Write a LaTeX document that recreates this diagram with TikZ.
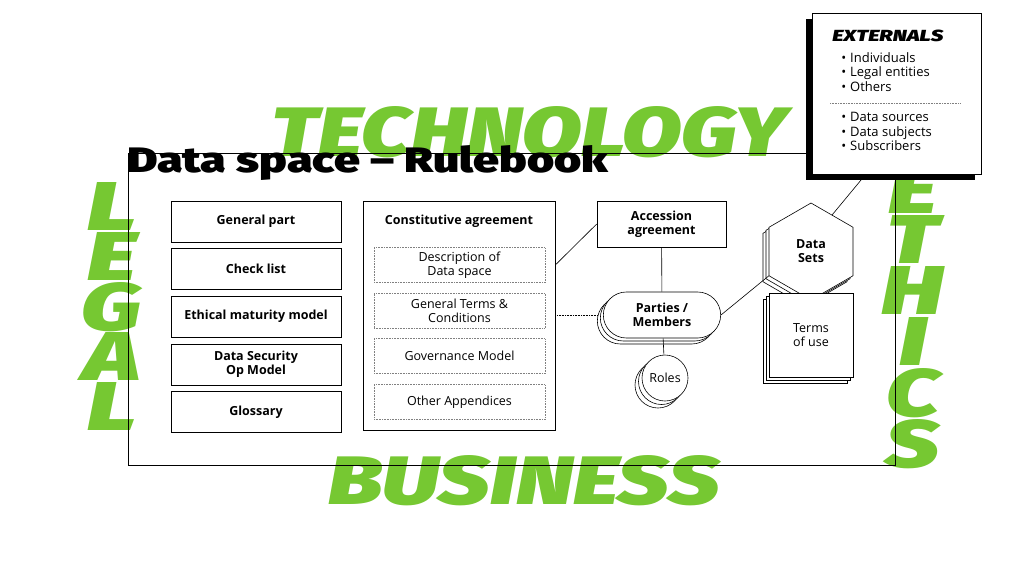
\documentclass[tikz,border=0pt]{standalone}
\usepackage{fontspec}
\setmainfont{Open Sans}
\newfontfamily\heavyfont{Fira Sans Black Italic}
\newfontfamily\titlefont{Fira Sans Black}
\usetikzlibrary{positioning,shapes.geometric,shapes.misc,shadows}
\definecolor{lime}{RGB}{118,200,50}

\begin{document}
\begin{tikzpicture}[x=1pt,y=-1pt,line width=0.6pt,
word/.style={text=lime,font=\heavyfont\fontsize{70}{70}\selectfont,inner sep=0pt},
part/.style={draw,fill=white,minimum width=170pt,minimum height=41pt,align=center,font=\fontsize{12.5}{14}\selectfont\bfseries},
sub/.style={draw=gray,densely dotted,text=black,minimum width=171pt,minimum height=35pt,align=center,font=\fontsize{12.5}{14}\selectfont},
stack/.style={general shadow={shadow xshift=-#1*2,shadow yshift=-#1*2,draw,fill=white},general shadow={shadow xshift=-#1,shadow yshift=-#1,draw,fill=white}},
lbl/.style={align=center,font=\fontsize{12.5}{14}\selectfont},
ext/.style={anchor=north west,inner sep=0pt,align=left,font=\fontsize{13}{14.6}\selectfont}]
\useasboundingbox (0,0) rectangle (1024,576);
\fill[white] (0,0) rectangle (1024,576);
% green words behind everything
\node[word] (tech) at (529.5,132) {\resizebox{515pt}{50pt}{TECHNOLOGY}};
\node[word] (biz) at (524,480.5) {\resizebox{392pt}{49pt}{BUSINESS}};
\foreach \l [count=\i] in {L,E,G,A,L}
  \node[word,anchor=base] (legal\i) at (112,230+50*\i-50) {\scalebox{1.4}[1]{\resizebox{!}{48pt}{\l}}};
\foreach \l [count=\i] in {E,T,H,I,C,S}
  \node[word,anchor=base] (ethics\i) at (913,213+50.8*\i-50.8) {\scalebox{1.4}[1]{\resizebox{!}{48pt}{\l}}};
% frame and title
\draw (128,153) rectangle (895,465);
\node[anchor=base west,inner sep=0pt,font=\titlefont] (title) at (127,172) {\resizebox{481pt}{27pt}{Data space – Rulebook}};
% left column
\node[part] (gen) at (256,221.5) {General part};
\node[part,below=6pt of gen] (check) {Check list};
\node[part,below=6pt of check] (ethical) {Ethical maturity model};
\node[part,below=6pt of ethical] (security) {Data Security\\Op Model};
\node[part,below=6pt of security] (gloss) {Glossary};
% constitutive agreement
\node[draw,minimum width=192pt,minimum height=229pt] (const) at (459,315.5) {};
\node[lbl,font=\fontsize{12.5}{14}\selectfont\bfseries] (consttitle) at (459,221) {Constitutive agreement};
\node[sub] (desc) at (459.5,265) {Description of\\Data space};
\node[sub,below=10pt of desc] (terms) {General Terms \&\\Conditions};
\node[sub,below=10pt of terms] (gov) {Governance Model};
\node[sub,below=10pt of gov] (other) {Other Appendices};
% right part
\node[part,minimum width=129pt,minimum height=46pt] (access) at (661.5,224) {Accession\\agreement};
\node[rounded rectangle,draw,fill=white,stack=3pt,minimum width=124pt,minimum height=46pt,lbl,font=\fontsize{12.5}{14}\selectfont\bfseries] (parties) at (662,315) {Parties /\\Members};
\node[circle,draw,fill=white,stack=3.5pt,minimum size=46pt,inner sep=0pt,lbl] (roles) at (665,378) {Roles};
\node[regular polygon,regular polygon sides=6,shape border rotate=30,draw,fill=white,stack=3pt,minimum size=97pt,inner sep=0pt,lbl,font=\fontsize{12.5}{14}\selectfont\bfseries] (data) at (811,251.5) {Data\\Sets};
\node[draw,fill=white,stack=3pt,minimum size=84pt,lbl] (use) at (811,335) {Terms\\of use};
% connectors
\coordinate (extfoot) at (866,174);
\draw (const.east |- desc) -- (access.west);
\draw (access) -- (parties);
\draw[densely dotted] (const.east |- parties) -- ([xshift=-6pt]parties.west);
\draw (parties) -- (roles);
\draw (parties.east) -- (data.210);
\draw (data.60) -- (extfoot);
% externals
\node[draw,fill=white,general shadow={fill=black,shadow xshift=-6pt,shadow yshift=-6pt},minimum width=169pt,minimum height=161pt] (ext) at (896.5,93.5) {};
\node[anchor=west,inner sep=0pt,font=\heavyfont] (exttitle) at (832,36) {\resizebox{111pt}{11.5pt}{EXTERNALS}};
\node[ext] (persons) at (841,52) {\textbullet\hspace{4pt}Individuals\\\textbullet\hspace{4pt}Legal entities\\\textbullet\hspace{4pt}Others};
\node[ext] (sources) at (841,112) {\textbullet\hspace{4pt}Data sources\\\textbullet\hspace{4pt}Data subjects\\\textbullet\hspace{4pt}Subscribers};
\draw[densely dotted,gray] (830,103) -- (960,103);
\end{tikzpicture}
\end{document}
